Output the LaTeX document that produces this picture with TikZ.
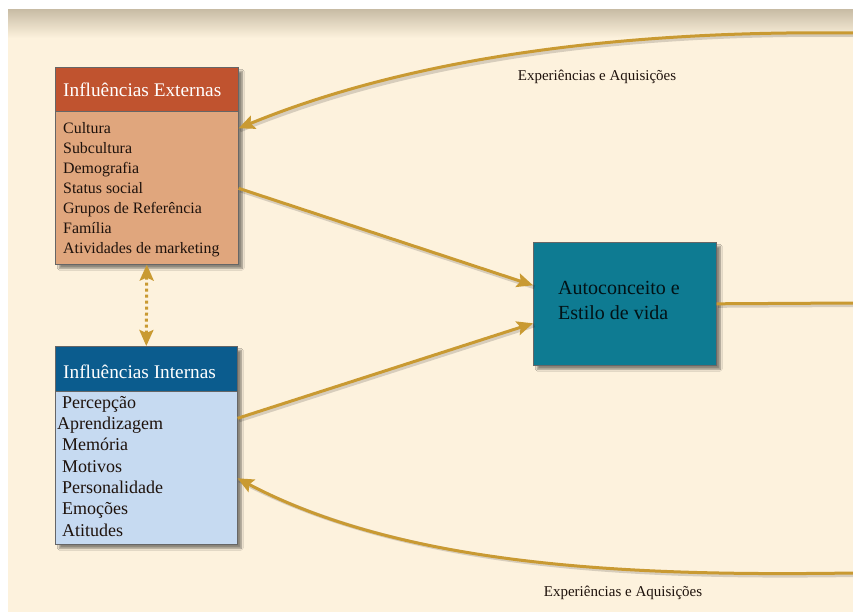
\documentclass[tikz,border=0pt]{standalone}
\usepackage{fontspec}
\setmainfont{Liberation Serif}
\usetikzlibrary{arrows.meta,shadows.blur}

\definecolor{paper}{HTML}{FDF2DD}
\definecolor{papertop}{HTML}{C9BDA6}
\definecolor{exthead}{HTML}{C0532F}
\definecolor{extbody}{HTML}{E0A67D}
\definecolor{inthead}{HTML}{0B5C8E}
\definecolor{intbody}{HTML}{C6DAF1}
\definecolor{selfbox}{HTML}{0E7B92}
\definecolor{flow}{HTML}{C99A32}
\definecolor{inktext}{HTML}{1E120C}

\tikzset{
  flowtip/.tip={Stealth[length=16pt,width=14pt,inset=3pt]},
  panel/.style={draw=black!60, line width=0.6pt, anchor=north west, inner sep=0pt,
    blur shadow={shadow xshift=4pt, shadow yshift=-4pt, shadow blur steps=6, shadow opacity=45}},
  headbar/.style={draw=black!60, line width=0.6pt, anchor=north west, inner sep=0pt},
  headtext/.style={text=white, anchor=west, inner sep=0pt, font=\fontsize{19.3}{22}\selectfont},
  itemlist/.style={text=inktext, anchor=north west, inner sep=0pt, align=left},
  flowline/.style={draw=flow, line width=3pt, -flowtip},
  flowshade/.style={draw=black, opacity=0.15, line width=4pt},
  caption/.style={text=inktext, font=\fontsize{15}{17}\selectfont, inner sep=0pt}
}

\begin{document}
\begin{tikzpicture}[x=1pt,y=-1pt]
  \useasboundingbox (0,0) rectangle (853,612);

  % page background with a darker band fading in at the top
  \fill[white] (0,0) rectangle (853,612);
  \fill[paper] (8,10) rectangle (853,612);
  \shade[top color=papertop, bottom color=paper] (8,10) rectangle (853,38);

  % boxes
  \node[panel, fill=extbody, minimum width=183pt, minimum height=197pt] (ext) at (55,67) {};
  \node[headbar, fill=exthead, minimum width=183pt, minimum height=44pt] (exth) at (55,67) {};
  \node[headtext] (extt) at (63,90) {Influências Externas};
  \node[itemlist, font=\fontsize{15.9}{20}\selectfont] (extl) at (63,122)
    {Cultura\\Subcultura\\Demografia\\Status social\\Grupos de Referência\\Família\\Atividades de marketing};

  \node[panel, fill=intbody, minimum width=182pt, minimum height=198pt] (int) at (55,346) {};
  \node[headbar, fill=inthead, minimum width=182pt, minimum height=45pt] (inth) at (55,346) {};
  \node[headtext] (intt) at (63,372) {Influências Internas};
  \node[itemlist, font=\fontsize{18}{21.3}\selectfont] (intl) at (62,396)
    {Percepção\\\hspace*{-5pt}Aprendizagem\\Memória\\Motivos\\Personalidade\\Emoções\\Atitudes};

  \node[panel, fill=selfbox, minimum width=183pt, minimum height=123pt] (self) at (533,242) {};
  \node[itemlist, text=black!85!selfbox, font=\fontsize{20}{25}\selectfont] (selft) at (558,281)
    {Autoconceito e\\Estilo de vida};

  % free ends at the right border
  \coordinate (topend) at (853,33);
  \coordinate (midend) at (853,303);
  \coordinate (lowend) at (853,573);

  % soft shadows under the connectors
  \begin{scope}[transform canvas={shift={(1.5pt,-2pt)}}]
    \draw[flowshade] (topend) .. controls (620,30) and (410,58) .. ([yshift=37.5pt]ext.east);
    \draw[flowshade] ([yshift=-22.5pt]ext.east) -- ([yshift=18.5pt]self.west);
    \draw[flowshade] ([yshift=27pt]int.east) -- ([yshift=-19.5pt]self.west);
    \draw[flowshade] (self.east) -- (midend);
    \draw[flowshade] (lowend) .. controls (650,576) and (410,570) .. ([yshift=-33pt]int.east);
  \end{scope}

  % connectors
  \draw[flowline] (topend) .. controls (620,30) and (410,58) .. ([yshift=37.5pt]ext.east);
  \draw[flowline] ([yshift=-22.5pt]ext.east) -- ([yshift=18.5pt]self.west);
  \draw[flowline] ([yshift=27pt]int.east) -- ([yshift=-19.5pt]self.west);
  \draw[draw=flow, line width=3pt] (self.east) -- (midend);
  \draw[flowline] (lowend) .. controls (650,576) and (410,570) .. ([yshift=-33pt]int.east);
  \draw[draw=flow, line width=3pt, dash pattern=on 3pt off 3pt, flowtip-flowtip]
        (ext.south) -- (int.north);

  % labels on the feedback loops
  \node[caption] (toplabel) at (597,77) {Experiências e Aquisições};
  \node[caption] (lowlabel) at (623,593) {Experiências e Aquisições};
\end{tikzpicture}
\end{document}
